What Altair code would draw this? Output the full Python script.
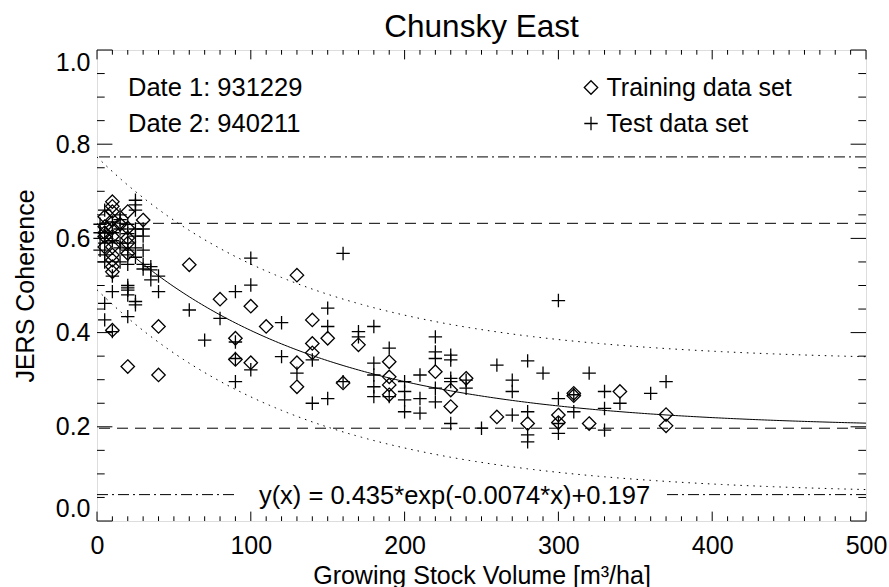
import altair as alt
import pandas as pd
import numpy as np

FONT = "Liberation Sans"

# ---------------- data ----------------
# Training data set (diamonds)
train_x = [10, 10, 10, 5, 10, 20, 30, 5, 10, 20, 5, 10, 20, 5, 10, 20, 10, 20, 10, 10, 10, 5, 15,
           10, 20, 40, 40, 60, 80, 90, 90, 100, 100, 110, 130, 130, 130, 140, 140, 140, 150, 160, 170,
           190, 190, 190, 190,
           220, 230, 230, 240, 260, 280, 300, 300, 310, 310, 320, 340, 370, 370]
train_y = [0.678, 0.668, 0.657, 0.646, 0.639, 0.657, 0.639, 0.625, 0.622, 0.622, 0.604, 0.604, 0.601,
           0.582, 0.582, 0.59, 0.565, 0.568, 0.554, 0.54, 0.529, 0.612, 0.63,
           0.405, 0.328, 0.413, 0.31, 0.544, 0.471, 0.388, 0.343, 0.456, 0.336, 0.413, 0.522, 0.336,
           0.285, 0.427, 0.377, 0.357, 0.388, 0.293, 0.374, 0.338, 0.306, 0.289, 0.268,
           0.317, 0.278, 0.243, 0.303, 0.221, 0.207, 0.225, 0.209, 0.271, 0.266, 0.207, 0.275, 0.226, 0.202]

# Test data set (plus signs)
test_x_a = [25, 25, 25, 5, 15, 15, 2, 2, 2, 5, 10, 20, 25, 20, 25, 15, 20, 2, 20, 30,
            5, 20, 20, 30, 30, 5, 10, 35, 30, 30, 15, 10, 15, 25, 25, 15, 5, 10]
test_y_a = [0.681, 0.671, 0.66, 0.66, 0.65, 0.64, 0.63, 0.612, 0.60, 0.612, 0.612, 0.63, 0.62, 0.61,
            0.605, 0.59, 0.59, 0.575, 0.575, 0.575, 0.565, 0.565, 0.545, 0.545, 0.535, 0.55, 0.52,
            0.54, 0.605, 0.62, 0.62, 0.635, 0.58, 0.58, 0.56, 0.55, 0.59, 0.595]
test_x_b = [10, 20, 20, 20, 20, 25, 25, 20, 5, 5, 10, 35, 35, 40, 40, 60, 70, 80, 90, 90, 90, 90]
test_y_b = [0.487, 0.50, 0.495, 0.49, 0.48, 0.466, 0.459, 0.434, 0.462, 0.427, 0.402, 0.512, 0.533,
            0.487, 0.52, 0.448, 0.384, 0.43, 0.487, 0.38, 0.345, 0.296]
test_x_c = [100, 100, 100, 120, 120, 130, 140, 140, 150, 150, 150, 160, 160, 170, 170, 180, 180, 180,
            180, 180, 190, 190, 200, 200, 200, 200, 210, 210, 210]
test_y_c = [0.558, 0.501, 0.321, 0.421, 0.349, 0.314, 0.342, 0.25, 0.452, 0.413, 0.26, 0.568, 0.296,
            0.402, 0.391, 0.413, 0.335, 0.31, 0.285, 0.264, 0.367, 0.264, 0.296, 0.275, 0.257, 0.232,
            0.31, 0.26, 0.229]
test_x_d = [300, 220, 220, 220, 230, 230, 230, 230, 220, 220, 230, 240, 240, 260, 270, 270, 270, 280,
            280, 280, 280, 290, 250, 300, 300, 300, 310, 310, 320, 330, 330, 330, 340, 360, 370]
test_y_d = [0.468, 0.391, 0.359, 0.345, 0.352, 0.342, 0.303, 0.296, 0.282, 0.253, 0.207, 0.299, 0.282,
            0.331, 0.299, 0.275, 0.225, 0.34, 0.232, 0.183, 0.168, 0.314, 0.197, 0.26, 0.207, 0.186,
            0.268, 0.232, 0.314, 0.275, 0.239, 0.193, 0.25, 0.271, 0.296]

# Fit shown in the chart: y(x) = A*exp(B*x)+C, envelope +/- BAND
A, B, C = 0.435, -0.0074, 0.197
BAND = 0.141

set_names = ["Training data set", "Test data set"]
date_labels = ["Date 1: 931229", "Date 2: 940211"]
title_text = "Chunsky East"
x_title = "Growing Stock Volume [m\u00b3/ha]"
y_title = "JERS Coherence"

x_major = [0, 100, 200, 300, 400, 500]
x_minor = [v for v in range(0, 501, 10) if v % 100 != 0]
y_major = [0.0, 0.2, 0.4, 0.6, 0.8, 1.0]
y_minor = [0.05, 0.1, 0.15, 0.25, 0.3, 0.35, 0.45, 0.5, 0.55, 0.65, 0.7, 0.75, 0.85, 0.9, 0.95]

# ---------------- build tables ----------------
W, H = 769, 471
test_x = test_x_a + test_x_b + test_x_c + test_x_d
test_y = test_y_a + test_y_b + test_y_c + test_y_d
pts = pd.DataFrame({
    "set": [set_names[0]] * len(train_x) + [set_names[1]] * len(test_x),
    "x": train_x + test_x,
    "y": train_y + test_y,
})

xs_curve = np.linspace(0, 500, 251)
fit = A * np.exp(B * xs_curve) + C
curves = pd.DataFrame({"x": xs_curve, "fit": fit, "up": fit + BAND, "lo": fit - BAND})

xsc = alt.Scale(domain=[0, 500], nice=False, zero=False)
ysc = alt.Scale(domain=[0, 1], nice=False, zero=False)

DIAMOND = "M0,-1L1,0L0,1L-1,0Z"
PLUS = "M-1,0L1,0M0,-1L0,1"

x_axis = alt.Axis(values=x_major, format="d", labelFontSize=25, labelFont=FONT, labelColor="black",
                  labelPadding=32, labelBaseline="alphabetic", ticks=False, tickSize=0, domain=False,
                  grid=False, labelOverlap=False, labelFlush=False,
                  title=x_title, titleFont=FONT, titleFontSize=25, titleFontWeight="normal",
                  titleColor="black", titleX=W / 2, titleY=62, titleAlign="center",
                  titleBaseline="alphabetic")
y_axis = alt.Axis(values=y_major, format=".1f", labelFontSize=25, labelFont=FONT, labelColor="black",
                  labelPadding=7, labelFlush=True, ticks=False, tickSize=0, domain=False, grid=False,
                  labelOverlap=False,
                  title=y_title, titleFont=FONT, titleFontSize=25, titleFontWeight="normal",
                  titleColor="black", titleX=-64, titleY=H / 2, titleAngle=270, titleAlign="center",
                  titleBaseline="alphabetic")


def X(field):
    return alt.X(field, scale=xsc, axis=x_axis)


def Y(field):
    return alt.Y(field, scale=ysc, axis=y_axis)


points = alt.Chart(pts).mark_point(filled=False, size=180, strokeWidth=1.3, color="black",
                                   opacity=1).encode(
    x=X("x:Q"),
    y=Y("y:Q"),
    shape=alt.Shape("set:N", scale=alt.Scale(domain=set_names, range=[DIAMOND, PLUS]),
                    legend=alt.Legend(title=None, orient="none", legendX=481.5, legendY=25,
                                      labelFontSize=25, labelFont=FONT, labelColor="black",
                                      symbolSize=180, symbolStrokeWidth=1.3,
                                      symbolStrokeColor="black", rowPadding=10, labelOffset=3,
                                      padding=0, labelLimit=400)),
)


def curve(field, dash=None):
    kw = dict(color="black", strokeWidth=1, clip=True)
    if dash:
        kw["strokeDash"] = dash
    return alt.Chart(curves).mark_line(**kw).encode(x=X("x:Q"), y=Y(f"{field}:Q"))


fit_line = curve("fit")
up_line = curve("up", [1.5, 5])
lo_line = curve("lo", [1.5, 5])

dashed = alt.Chart(pd.DataFrame({"y": [A + C, C]})).mark_rule(
    color="black", strokeWidth=1, strokeDash=[11, 7]).encode(y=Y("y:Q"))

dashdot_top = alt.Chart(pd.DataFrame({"y": [A + C + BAND]})).mark_rule(
    color="black", strokeWidth=1, strokeDash=[11, 4, 2, 4]).encode(y=Y("y:Q"))

low_df = pd.DataFrame({"y": [C - BAND]})
dashdot_lo1 = alt.Chart(low_df).mark_rule(
    color="black", strokeWidth=1, strokeDash=[11, 4, 2, 4]).encode(
    y=Y("y:Q"), x=alt.value(0), x2=alt.value(140))
dashdot_lo2 = alt.Chart(low_df).mark_rule(
    color="black", strokeWidth=1, strokeDash=[11, 4, 2, 4]).encode(
    y=Y("y:Q"), x=alt.value(570), x2=alt.value(W))

eq_text = f"y(x) = {A}*exp({B}*x)+{C}"


def label(txt, px, py, align="left"):
    return alt.Chart(pd.DataFrame({"t": [txt]})).mark_text(
        align=align, baseline="alphabetic", font=FONT, fontSize=25.5, color="black").encode(
        text="t:N", x=alt.value(px), y=alt.value(py))


eq = label(eq_text, 357.5, 453.5, align="center")
d1 = label(date_labels[0], 31, 46)
d2 = label(date_labels[1], 31, 82)

# inward tick marks on all four sides
xmaj = pd.DataFrame({"v": x_major})
xmin = pd.DataFrame({"v": x_minor})
ymaj = pd.DataFrame({"v": y_major})
ymin = pd.DataFrame({"v": y_minor})


def xticks(df, length):
    b = alt.Chart(df).mark_rule(color="black", strokeWidth=1).encode(
        x=X("v:Q"), y=alt.value(H), y2=alt.value(H - length))
    t = alt.Chart(df).mark_rule(color="black", strokeWidth=1).encode(
        x=X("v:Q"), y=alt.value(0), y2=alt.value(length))
    return [b, t]


def yticks(df, length):
    l = alt.Chart(df).mark_rule(color="black", strokeWidth=1).encode(
        y=Y("v:Q"), x=alt.value(0), x2=alt.value(length))
    r = alt.Chart(df).mark_rule(color="black", strokeWidth=1).encode(
        y=Y("v:Q"), x=alt.value(W), x2=alt.value(W - length))
    return [l, r]


ticks = xticks(xmaj, 9.4) + xticks(xmin, 4.7) + yticks(ymaj, 15.4) + yticks(ymin, 7.7)

chart = alt.layer(
    points, dashed, dashdot_top, dashdot_lo1, dashdot_lo2, up_line, lo_line, fit_line, *ticks,
    eq, d1, d2,
).properties(
    width=W, height=H,
    title=alt.TitleParams(title_text, font=FONT, fontSize=31.5, fontWeight="normal", color="black",
                          anchor="middle", baseline="alphabetic", offset=13, dy=32),
    autosize=alt.AutoSizeParams(type="none"),
    padding={"left": 97, "top": 50, "right": 23, "bottom": 66},
).configure_view(stroke="black", strokeWidth=1).configure(background="white")

chart.save("out.html", embed_options={"renderer": "svg", "actions": False})
